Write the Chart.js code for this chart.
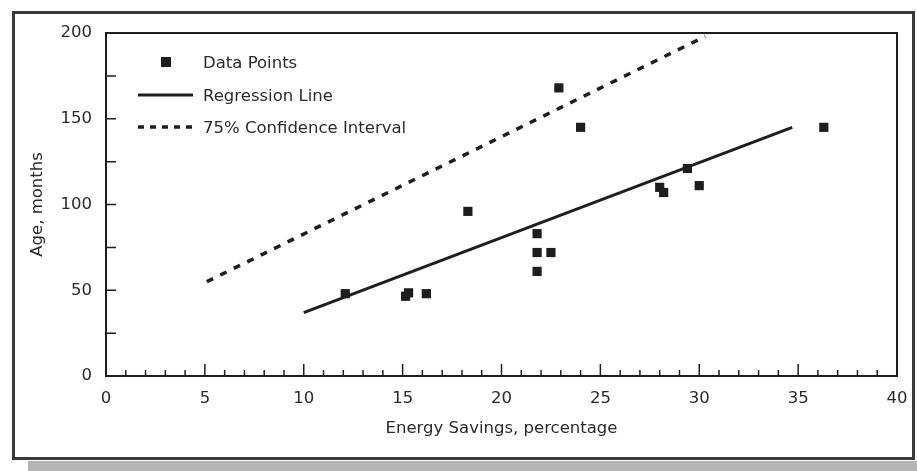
<!DOCTYPE html>
<html lang="en">
<head>
<meta charset="UTF-8">
<title>Age vs Energy Savings</title>
<script src="https://cdn.jsdelivr.net/npm/chart.js"></script>
<style>
  html, body { margin: 0; padding: 0; background: #fff; }
  #wrap { width: 917px; height: 471px; }
</style>
</head>
<body>
<div id="wrap"><canvas id="chart" width="917" height="471"></canvas></div>
<script>
// values
const savings = [12.1, 15.15, 15.3, 16.2, 18.3, 21.8, 21.8, 21.8, 22.5, 22.9, 24.0, 28.0, 28.2, 29.4, 30.0, 36.3];
const age     = [48,   46.5,  48.5, 48,   96,   83,   72,   61,   72,   168,  145,  110,  107,  121,  111,  145];
const regX = [10, 34.7];
const regY = [37, 145];
const ciX = [5.1, 30.3];
const ciY = [55, 198];
const seriesNames = ['Data Points', 'Regression Line', '75% Confidence Interval'];
const xTitle = 'Energy Savings, percentage';
const yTitle = 'Age, months';

const FONT = '"DejaVu Sans", sans-serif';
const INK = '#1e1e1e';
const TXT = '#2a2a2a';

const pts = savings.map((v, i) => ({ x: v, y: age[i] }));
const reg = regX.map((v, i) => ({ x: v, y: regY[i] }));
const ci = ciX.map((v, i) => ({ x: v, y: ciY[i] }));

// paper frame and grey strip
const framePlugin = {
    id: 'frame',
    beforeDraw(chart) {
        const { ctx, width, height } = chart;
        ctx.save();
        ctx.fillStyle = '#fff';
        ctx.fillRect(0, 0, width, height);
        ctx.fillStyle = '#b4b4b4';
        ctx.fillRect(28, 461, width - 28, height - 461);
        ctx.strokeStyle = '#3a3a3a';
        ctx.lineWidth = 3;
        ctx.strokeRect(13.5, 12.5, 900, 446);
        ctx.restore();
    }
};

// box around plot area + inward ticks
const ticksPlugin = {
    id: 'inTicks',
    afterDraw(chart) {
        const { ctx, chartArea: a, scales } = chart;
        const xs = scales.x, ys = scales.y;
        ctx.save();
        ctx.strokeStyle = INK;
        ctx.lineWidth = 2;
        ctx.beginPath();
        ctx.moveTo(a.left, a.top);
        ctx.lineTo(a.right, a.top);
        ctx.lineTo(a.right, a.bottom);
        ctx.stroke();

        ctx.lineWidth = 1.5;
        ctx.beginPath();
        for (let v = 1; v < 40; v++) {
            const px = xs.getPixelForValue(v);
            const len = v % 5 === 0 ? 12 : 6;
            ctx.moveTo(px, a.bottom);
            ctx.lineTo(px, a.bottom - len);
        }
        for (let v = 25; v < 200; v += 25) {
            const py = ys.getPixelForValue(v);
            ctx.moveTo(a.left, py);
            ctx.lineTo(a.left + 10, py);
        }
        ctx.stroke();
        ctx.restore();
    }
};

// legend inside the plot, top left
const legendPlugin = {
    id: 'boxLegend',
    afterDraw(chart) {
        const { ctx, chartArea: a } = chart;
        const x0 = a.left + 32, x1 = a.left + 87, tx = a.left + 97;
        const rows = [a.top + 29, a.top + 62, a.top + 94];
        ctx.save();
        ctx.fillStyle = INK;
        ctx.fillRect(a.left + 55, rows[0] - 5, 10, 10);
        ctx.strokeStyle = INK;
        ctx.lineWidth = 3;
        ctx.beginPath();
        ctx.moveTo(x0, rows[1]);
        ctx.lineTo(x1, rows[1]);
        ctx.stroke();
        ctx.setLineDash([6, 6]);
        ctx.lineWidth = 3.5;
        ctx.beginPath();
        ctx.moveTo(x0, rows[2]);
        ctx.lineTo(x1, rows[2]);
        ctx.stroke();
        ctx.setLineDash([]);
        ctx.fillStyle = TXT;
        ctx.font = '16.5px ' + FONT;
        ctx.textBaseline = 'middle';
        ctx.textAlign = 'left';
        seriesNames.forEach((s, i) => ctx.fillText(s, tx, rows[i] + 2));
        ctx.restore();
    }
};

new Chart(document.getElementById('chart'), {
    type: 'scatter',
    data: {
        datasets: [
            {
                label: seriesNames[0], data: pts,
                pointStyle: 'rect', pointRadius: 6.5, pointHoverRadius: 6.5,
                backgroundColor: INK, borderWidth: 0
            },
            {
                type: 'line', label: seriesNames[1], data: reg,
                borderColor: INK, borderWidth: 3, pointRadius: 0, fill: false
            },
            {
                type: 'line', label: seriesNames[2], data: ci,
                borderColor: INK, borderWidth: 3.5, borderDash: [7, 8], pointRadius: 0, fill: false
            }
        ]
    },
    options: {
        responsive: false,
        devicePixelRatio: 1,
        animation: false,
        layout: { padding: { left: 28, right: 20, top: 33, bottom: 32 } },
        plugins: { legend: { display: false }, tooltip: { enabled: false } },
        scales: {
            x: {
                type: 'linear', min: 0, max: 40,
                afterFit: (s) => { s.height = 63; },
                ticks: { stepSize: 5, padding: 5, color: TXT, font: { family: FONT, size: 16.5 } },
                grid: { display: false },
                border: { display: true, color: INK, width: 2 },
                title: { display: true, text: xTitle, color: TXT, padding: 0, font: { family: FONT, size: 16.5 } }
            },
            y: {
                type: 'linear', min: 0, max: 200,
                afterFit: (s) => { s.width = 78; },
                ticks: { stepSize: 50, padding: 6, color: TXT, font: { family: FONT, size: 16.5 } },
                grid: { display: false },
                border: { display: true, color: INK, width: 2 },
                title: { display: true, text: yTitle, color: TXT, padding: 0, font: { family: FONT, size: 16.5 } }
            }
        }
    },
    plugins: [framePlugin, ticksPlugin, legendPlugin]
});
</script>
</body>
</html>
